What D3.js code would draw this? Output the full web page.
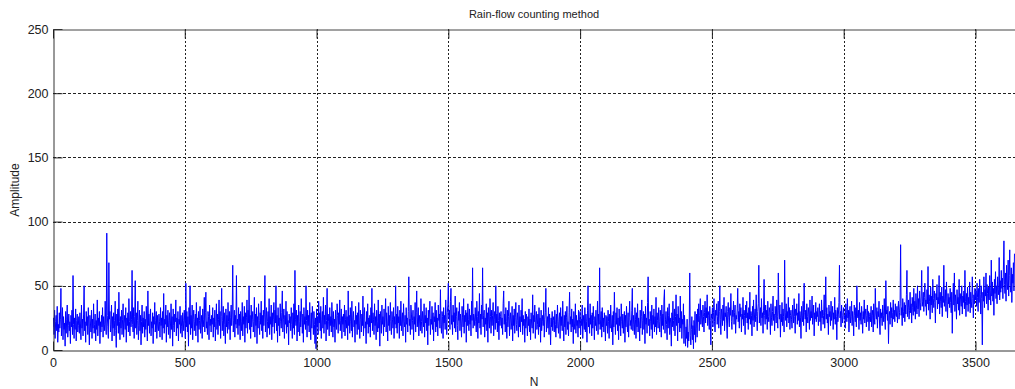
<!DOCTYPE html>
<html>
<head>
<meta charset="utf-8">
<script src="https://cdn.jsdelivr.net/npm/d3@7"></script>
<style>
  html, body { margin: 0; padding: 0; background: #fff; }
  svg { display: block; }
  text { font-family: "Liberation Sans", Arial, Helvetica, sans-serif; fill: #222; }
</style>
</head>
<body>
<svg id="chart" width="1015" height="389"></svg>
<script>
// ---- Data (one value every 2 cycles) ----
const title = "Rain-flow counting method";
const xLabel = "N";
const yLabel = "Amplitude";
const xStep = 2;
const xTicks = [0, 500, 1000, 1500, 2000, 2500, 3000, 3500];
const yTicks = [0, 50, 100, 150, 200, 250];
const xDomain = [0, 3650];
const yDomain = [0, 250];

const amp0000 = [
18,25,12,31,9,22,27,15,34,6,20,14,29,17,24,48,11,19,33,8,26,16,21,3,30,13,24,35,10,19,28,15,22,5,27,18,31,12,58,20,9,25,16,32,7,23,28,14,19,26,
13,29,21,8,35,17,24,11,28,50,15,22,6,30,19,26,12,33,18,4,27,21,14,31,9,24,17,36,13,20,28,7,23,16,39,11,25,19,30,5,22,14,27,18,33,10,26,20,15,38,
21,12,91,27,18,9,68,24,30,14,20,35,7,26,17,29,11,23,38,15,2,28,19,32,13,45,22,8,26,17,31,12,24,36,10,21,27,16,33,6,25,19,29,14,40,22,11,30,18,24,
62,20,14,33,9,26,54,17,29,12,23,38,8,19,31,15,27,4,22,35,13,25,18,30,10,24,16,34,21,7,46,19,28,13,25,32,11,22,17,29,5,26,20,37,14,23,30,9,27,18,
15,28,22,10,33,19,25,8,30,17,44,13,24,20,35,6,27,18,31,12,23,29,9,21,36,16,26,3,32,19,14,28,22,39,11,25,17,30,7,24,20,34,13,27,18,10,29,23,15,31
];
const amp0500 = [
21,9,52,18,30,14,26,3,33,20,50,12,27,17,35,8,24,31,15,22,28,11,37,19,25,6,30,16,23,34,13,20,27,9,32,18,24,41,14,29,45,17,22,12,30,26,8,35,19,24,
14,27,20,33,10,25,18,31,7,22,36,16,28,12,24,39,19,30,9,26,48,15,23,34,11,29,20,5,32,18,27,13,37,22,16,30,8,25,35,19,28,66,14,23,31,10,27,20,58,17,
24,12,33,19,28,8,30,22,15,37,11,26,20,34,6,29,17,25,39,13,31,21,50,16,27,9,35,18,24,30,14,22,41,10,28,19,33,5,26,17,36,23,12,29,20,38,15,27,9,31,
19,28,58,14,25,33,10,22,30,17,40,12,26,20,35,8,29,18,24,37,13,31,21,50,15,27,6,33,19,25,11,36,22,17,29,46,14,24,32,9,27,20,38,13,30,18,23,4,28,21,
26,15,33,20,9,29,17,36,12,62,24,19,31,7,27,14,35,22,11,30,18,40,25,13,28,6,33,20,26,16,50,23,10,31,19,27,14,37,21,8,29,17,34,24,12,30,20,5,25,1
];
const amp1000 = [
32,18,26,12,38,21,29,15,34,9,24,30,17,41,13,27,20,35,7,23,48,16,28,22,11,33,19,26,14,37,25,10,30,18,24,6,31,21,16,36,27,13,29,20,39,15,23,32,9,26,
20,28,14,35,11,24,31,17,26,8,46,19,27,13,33,22,15,38,10,25,30,18,23,6,34,20,27,12,29,16,37,21,9,31,24,14,28,19,42,11,26,33,17,22,5,30,20,36,13,25,
18,27,10,33,21,48,15,29,24,12,36,19,26,8,31,22,14,39,17,28,3,30,23,13,35,20,26,11,32,18,25,40,14,29,21,7,34,19,27,15,37,22,12,30,24,17,33,9,26,20,
50,17,28,13,34,21,26,9,31,19,38,15,24,29,11,36,22,18,27,6,33,20,25,14,30,57,19,24,12,35,28,16,23,31,8,26,20,37,14,29,46,18,25,33,11,27,21,15,40,22,
13,30,24,18,36,10,27,21,33,15,25,4,31,19,28,38,12,24,20,34,16,29,7,26,22,37,14,31,18,25,11,35,23,28,17,47,20,13,30,26,9,33,21,27,16,39,24,12,29,35
];
const amp1500 = [
52,24,31,16,38,48,20,27,12,35,22,29,17,42,14,26,33,19,8,30,23,37,15,28,21,10,34,25,18,40,13,27,22,31,6,29,19,36,24,15,32,20,27,11,38,23,64,17,28,25,
19,33,22,14,38,26,9,30,21,44,17,28,12,35,24,64,18,27,31,10,25,20,36,15,29,6,33,22,17,40,26,13,31,19,27,37,11,24,30,16,50,21,28,14,34,23,8,29,19,26,
30,17,25,12,36,46,20,28,14,33,22,9,31,18,26,38,11,24,29,16,21,34,7,27,19,32,13,25,37,20,15,29,23,10,35,18,26,14,31,22,40,12,27,19,24,6,30,17,28,21,
11,26,19,32,14,24,8,29,21,17,43,13,27,22,35,9,24,30,16,20,28,12,33,18,25,6,31,15,22,27,19,37,10,24,29,48,14,21,26,17,33,12,28,20,4,25,18,30,15,23,
26,14,31,20,10,28,17,35,22,13,24,29,9,33,19,26,15,38,21,7,27,18,30,12,25,34,16,22,11,29,45,20,26,14,32,18,24,5,30,21,16,36,13,27,19,23,10,31,17,24
];
const amp2000 = [
30,12,24,19,35,9,27,21,16,33,14,28,22,6,31,50,18,25,13,36,20,27,11,29,17,34,23,8,26,19,31,15,22,38,12,28,20,64,16,24,30,10,33,18,25,14,29,21,7,27,
19,26,13,31,22,9,28,17,35,21,14,27,4,30,18,45,23,12,29,20,33,15,25,8,32,19,26,11,36,22,17,28,13,24,30,6,27,18,34,21,14,29,10,25,38,19,23,16,31,48,
15,27,20,12,33,24,9,29,18,36,14,25,21,7,31,17,26,39,12,23,30,16,28,5,34,20,25,13,37,57,19,24,11,30,22,16,35,9,27,20,32,14,26,18,41,12,29,23,17,33,
22,14,31,26,10,35,19,28,16,39,47,13,24,30,20,8,33,17,27,36,12,25,21,3,29,18,38,23,15,32,11,26,43,19,28,7,34,21,25,14,42,17,30,9,24,20,36,5,27,16,
3,18,9,24,2,14,7,21,60,11,4,16,26,8,19,1,23,12,30,6,17,28,10,32,22,36,15,27,40,20,31,24,18,35,26,14,29,38,21,33,25,43,19,30,27,16,34,23,4,28
];
const amp2500 = [
25,33,18,29,40,22,14,31,27,36,20,26,38,17,30,50,24,12,32,28,19,35,23,41,15,29,26,34,21,9,30,37,25,18,33,27,44,22,16,31,26,38,20,29,35,13,27,24,32,48,
22,30,17,36,26,33,14,28,24,41,19,31,27,12,35,25,38,21,29,16,33,24,45,20,30,27,11,34,23,39,18,28,32,22,43,26,15,30,36,66,21,28,33,19,40,25,29,13,31,55,
27,20,35,24,31,16,38,26,22,33,29,12,36,25,19,30,42,23,28,15,34,27,21,39,26,17,60,31,24,35,10,28,22,37,19,32,26,14,70,29,23,36,18,30,25,41,21,33,16,27,
31,24,17,35,28,21,40,26,13,32,27,36,20,29,23,44,18,30,25,9,34,27,22,38,19,52,29,24,31,14,36,26,21,33,28,16,39,23,30,25,42,20,27,35,11,29,24,37,22,30,
26,33,19,28,36,22,30,15,39,25,31,20,27,43,17,29,57,24,33,21,28,12,35,26,30,19,38,23,27,34,16,29,24,41,20,31,26,8,33,22,28,37,66,25,30,18,35,27,21,29
];
const amp3000 = [
33,24,27,17,36,29,22,40,25,31,14,28,34,21,26,38,19,30,24,11,35,27,22,33,18,50,28,25,31,16,37,23,29,20,34,26,13,30,24,39,21,28,32,18,27,35,22,30,15,26,
29,22,34,18,27,31,14,36,25,20,48,28,24,33,17,30,26,38,21,12,32,25,29,19,35,27,22,40,24,16,54,28,31,23,34,5,27,30,20,37,25,33,18,29,39,24,31,22,36,27,
26,34,21,31,38,24,29,36,82,27,33,19,40,30,25,37,22,35,28,43,62,26,33,39,24,31,45,29,36,21,41,33,27,48,30,38,24,44,35,28,50,32,40,26,46,37,31,42,62,34,
38,45,30,41,52,34,39,27,47,36,65,31,43,38,24,49,35,42,29,55,40,33,46,37,21,44,39,51,32,41,36,58,28,45,38,33,49,26,42,37,66,34,40,47,30,53,38,25,44,36,
41,33,48,37,29,45,13,39,52,35,60,30,43,38,24,47,36,41,31,55,27,44,39,34,50,28,42,37,46,32,62,38,26,44,35,49,30,41,36,53,29,45,38,33,57,40,25,43,36,48
];
const amp3500 = [
39,46,34,52,41,30,48,37,55,43,28,50,40,4,45,38,57,33,47,42,60,36,51,44,31,49,39,58,46,35,70,42,53,38,48,27,55,44,61,40,50,36,57,47,43,72,39,54,45,62,
48,56,40,63,85,51,44,60,38,66,53,47,70,42,58,78,50,45,64,37,59,52,68,46,75
];

const amplitude = [].concat(amp0000, amp0500, amp1000, amp1500, amp2000, amp2500, amp3000, amp3500);
const series = amplitude.map((v, i) => ({ n: i * xStep, a: v }));

// ---- Layout ----
const svg = d3.select("#chart");
const mLeft = 53, mRight = 1015, mTop = 29, mBottom = 350;

const x = d3.scaleLinear().domain(xDomain).range([mLeft, mRight]);
const y = d3.scaleLinear().domain(yDomain).range([mBottom, mTop]);

const crisp = v => Math.round(v) + 0.5;

// Grid
const grid = svg.append("g");
xTicks.filter(t => t > 0).forEach(t => {
  grid.append("line")
    .attr("x1", crisp(x(t))).attr("x2", crisp(x(t)))
    .attr("y1", mTop).attr("y2", mBottom)
    .attr("stroke", "#222").attr("stroke-width", 1)
    .attr("stroke-dasharray", "2,2");
});
yTicks.filter(t => t > 0 && t < 250).forEach(t => {
  grid.append("line")
    .attr("x1", mLeft).attr("x2", mRight)
    .attr("y1", crisp(y(t))).attr("y2", crisp(y(t)))
    .attr("stroke", "#222").attr("stroke-width", 1)
    .attr("stroke-dasharray", "3,2");
});

// Data line
svg.append("defs").append("clipPath").attr("id", "clip")
  .append("rect").attr("x", mLeft).attr("y", mTop).attr("width", mRight - mLeft).attr("height", mBottom - mTop);

const line = d3.line().x(d => x(d.n)).y(d => y(d.a));
svg.append("path")
  .datum(series)
  .attr("clip-path", "url(#clip)")
  .attr("fill", "none")
  .attr("stroke", "#0000ff")
  .attr("stroke-width", 1)
  .attr("d", line);

// Axes (MATLAB style, ticks inward)
const tickLen = 9;
const fmt = d3.format("d");
const axX = d3.axisBottom(x).tickValues(xTicks).tickFormat(fmt).tickSizeInner(-tickLen).tickSizeOuter(0).tickPadding(8);
const gX = svg.append("g").attr("transform", `translate(0,${crisp(mBottom)})`).call(axX);
gX.select(".domain").attr("stroke", "#333");
gX.selectAll(".tick line").attr("stroke", "#222");
gX.selectAll(".tick text").attr("font-size", 12.5).attr("fill", "#222");

const axY = d3.axisLeft(y).tickValues(yTicks).tickFormat(fmt).tickSizeInner(-tickLen).tickSizeOuter(0).tickPadding(5);
const gY = svg.append("g").attr("transform", `translate(${crisp(mLeft)},0)`).call(axY);
gY.select(".domain").attr("stroke", "#333");
gY.selectAll(".tick line").attr("stroke", "#222");
gY.selectAll(".tick text").attr("font-size", 12.5).attr("fill", "#222");

// Top border with inward ticks
const axTop = d3.axisTop(x).tickValues(xTicks).tickSizeInner(-tickLen).tickSizeOuter(0).tickFormat("");
const gT = svg.append("g").attr("transform", `translate(0,${crisp(mTop)})`).call(axTop);
gT.select(".domain").attr("stroke", "#444");
gT.selectAll(".tick line").attr("stroke", "#222");

// Labels
svg.append("text").attr("x", 534).attr("y", 18).attr("text-anchor", "middle")
  .attr("font-size", 11).text(title);
svg.append("text").attr("x", 534).attr("y", 386).attr("text-anchor", "middle")
  .attr("font-size", 12).text(xLabel);
svg.append("text").attr("transform", "translate(19,190) rotate(-90)").attr("text-anchor", "middle")
  .attr("font-size", 12).text(yLabel);
</script>
</body>
</html>
